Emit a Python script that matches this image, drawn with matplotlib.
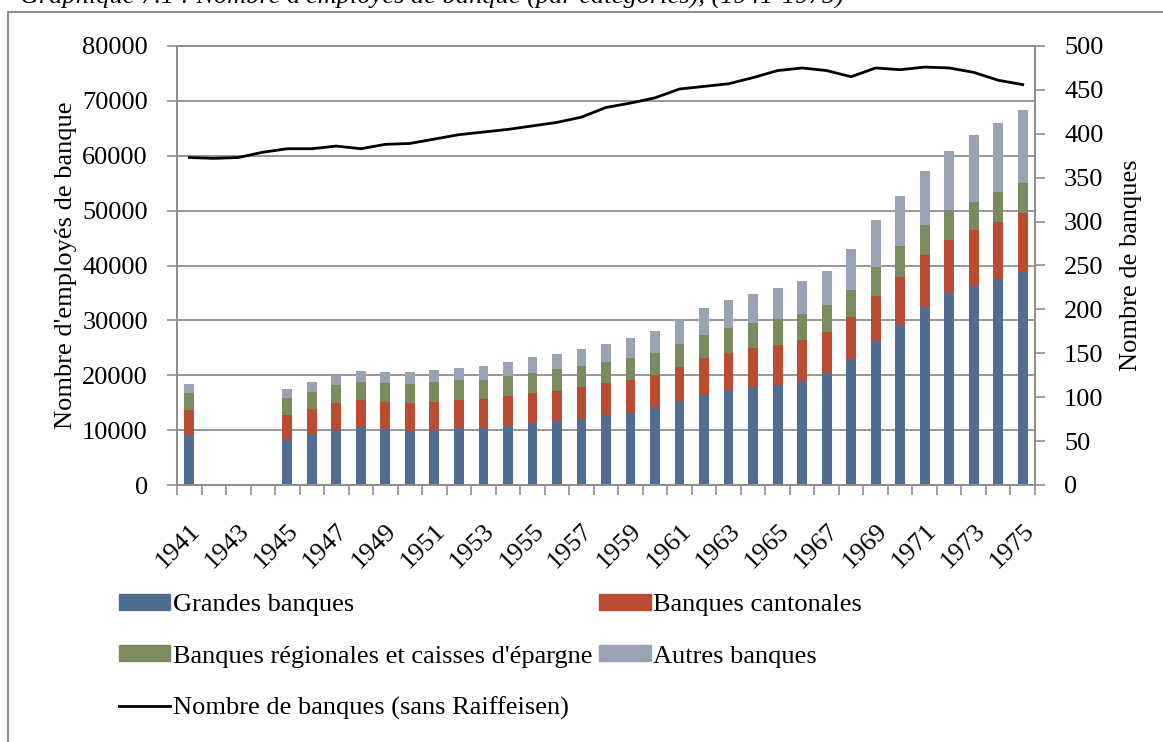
import numpy as np
import matplotlib
matplotlib.use("Agg")
import matplotlib.pyplot as plt
from matplotlib.patches import Patch
from matplotlib.lines import Line2D

nan = np.nan
years = list(range(1941, 1976))
grandes = [9100, nan, nan, nan, 8330, 9240, 10020, 10510, 10150, 9840, 10080, 10330,
           10390, 10750, 11240, 11660, 12080, 12700, 13180, 14160, 15250, 16460, 17260,
           17860, 18280, 19010, 20360, 22910, 26240, 29100, 32380, 34990, 36320, 37540, 38870]
cantonales = [4620, nan, nan, nan, 4430, 4610, 4920, 4980, 5030, 5160, 5100, 5220,
              5220, 5470, 5530, 5530, 5830, 5830, 6010, 5890, 6310, 6630, 6850,
              7160, 7290, 7360, 7520, 7700, 8260, 8860, 9480, 9710, 10150, 10440, 10700]
regionales = [3100, nan, nan, nan, 3150, 3100, 3230, 3340, 3410, 3410, 3590, 3580,
              3520, 3590, 3700, 3950, 3830, 3940, 4010, 4060, 4190, 4300, 4500,
              4560, 4630, 4850, 4870, 4930, 5280, 5650, 5470, 5360, 5160, 5470, 5520]
autres = [1530, nan, nan, nan, 1580, 1820, 1820, 1940, 1940, 2120, 2230, 2270,
          2560, 2600, 2860, 2790, 2990, 3220, 3530, 3900, 4500, 4810, 5100,
          5280, 5640, 5900, 6300, 7410, 8510, 9000, 9950, 10750, 12150, 12570, 13250]
nb_banques = [373, 372, 373, 379, 383, 383, 386, 383, 388, 389, 394, 399,
              402, 405, 409, 413, 419, 430, 435, 441, 451, 454, 457,
              464, 472, 475, 472, 465, 475, 473, 476, 475, 470, 461, 456]

labels = ["Grandes banques", "Banques cantonales",
          "Banques régionales et caisses d'épargne", "Autres banques"]
line_label = "Nombre de banques (sans Raiffeisen)"
colors = ["#506E91", "#BA4C32", "#7A8C5F", "#98A4B4"]
grid_c = "#8f8f8f"

plt.rcParams['font.family'] = ['Liberation Serif', 'DejaVu Serif']
FS = 19

W, H = 1163, 742
fig = plt.figure(figsize=(W / 100, H / 100), dpi=100)
ax = fig.add_axes([177 / W, 1 - 485 / H, (1035 - 177) / W, (485 - 46) / H])

x = np.arange(len(years))
series = [np.array(grandes, float), np.array(cantonales, float),
          np.array(regionales, float), np.array(autres, float)]
bottom = np.zeros(len(years))
for s, c, lab in zip(series, colors, labels):
    v = np.nan_to_num(s)
    ax.bar(x, v, width=0.4, bottom=bottom, color=c, label=lab, zorder=2)
    bottom = bottom + v

ax.set_xlim(-0.5, len(years) - 0.5)
ax.set_ylim(0, 80000)
ax.set_yticks(np.arange(0, 80001, 10000))
ax.yaxis.grid(True, color=grid_c, linewidth=1.3)
ax.set_axisbelow(True)

ax.set_xticks(np.arange(-0.5, len(years), 1.0))
ax.set_xticklabels([])
ax.set_xticks(x[::2], minor=True)
ax.set_xticklabels([str(y) for y in years[::2]], minor=True, rotation=45,
                   ha='right', va='top', rotation_mode='anchor', fontsize=FS)
ax.tick_params(axis='x', which='minor', length=0, pad=25)
ax.tick_params(axis='x', which='major', length=7, color=grid_c, width=1.2)
ax.tick_params(axis='y', length=7, color=grid_c, width=1.2, pad=14, labelsize=FS)
for sp in ax.spines.values():
    sp.set_color(grid_c)
    sp.set_linewidth(1.3)
ax.set_ylabel("Nombre d'employés de banque", fontsize=FS, labelpad=4)

ax2 = ax.twinx()
ax2.set_ylim(0, 500)
ax2.set_yticks(np.arange(0, 501, 50))
ax2.plot(x, nb_banques, color='black', linewidth=2.0, label=line_label, zorder=3)
ax2.tick_params(axis='y', length=7, color=grid_c, width=1.2, pad=14, labelsize=FS)
for sp in ax2.spines.values():
    sp.set_color(grid_c)
    sp.set_linewidth(1.3)
ax2.set_ylabel("Nombre de banques", fontsize=FS, labelpad=12)

handles = [Patch(color=colors[0]), Patch(color=colors[2]),
           Line2D([], [], color='black', linewidth=2.0),
           Patch(color=colors[1]), Patch(color=colors[3])]
hlabels = [labels[0], labels[2], line_label, labels[1], labels[3]]
fig.legend(handles, hlabels, loc='upper left', bbox_to_anchor=(119 / W, 1 - 594 / H),
           ncol=2, frameon=False, fontsize=FS, handlelength=1.95, handleheight=0.55,
           handletextpad=0.1, columnspacing=0.25, labelspacing=1.1,
           borderpad=0, borderaxespad=0)

fig.text(20 / W, 1 - 4 / H,
         "Graphique 7.1 : Nombre d'employés de banque (par catégories), (1941-1975)",
         fontsize=FS, style='italic', ha='left', va='baseline')

border = matplotlib.patches.Rectangle((7.5 / W, -0.05), 1.2, 1 - 12 / H + 0.05,
                                      transform=fig.transFigure, fill=False,
                                      edgecolor=grid_c, linewidth=1.5)
fig.patches.append(border)

fig.savefig("out.png", dpi=100)
